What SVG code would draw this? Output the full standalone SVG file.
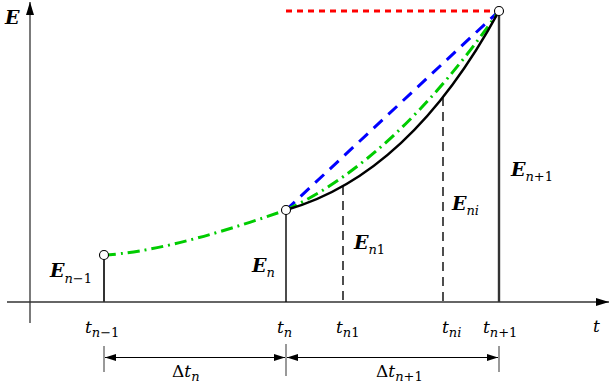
<svg xmlns="http://www.w3.org/2000/svg" width="610" height="389" viewBox="0 0 610 389">
<style>
.ax{stroke:#333;stroke-width:1.3;fill:none}
text{font-family:'DejaVu Serif',serif}
.E{font-style:italic;font-weight:bold;font-size:19px;fill:#000}
.t{font-style:italic;font-size:17px;fill:#000}
.s{font-size:13px;font-weight:normal}
.u{font-style:normal}
.pt{fill:#fff;stroke:#000;stroke-width:1.1}
.dim{stroke:#000;stroke-width:1;fill:none}
.tick{stroke:#555;stroke-width:1.2}
</style>
<defs>
<marker id="ah" markerWidth="14" markerHeight="10" refX="13" refY="5" orient="auto" markerUnits="userSpaceOnUse">
<path d="M0,1 L13,5 L0,9 Z" fill="#000"/>
</marker>
<marker id="dh" markerWidth="12" markerHeight="8" refX="11" refY="4" orient="auto-start-reverse" markerUnits="userSpaceOnUse">
<path d="M0,0.5 L11,4 L0,7.5 Z" fill="#000"/>
</marker>
</defs>
<g id="axes">
<line class="ax" x1="7" y1="302" x2="609" y2="302" marker-end="url(#ah)"/>
<line class="ax" x1="30" y1="323" x2="30" y2="2" marker-end="url(#ah)"/>
<text class="E" x="5" y="24">E</text>
<text class="t" x="593" y="332">t</text>
</g>
<g id="connectors">
<line x1="104" y1="255" x2="104" y2="302" stroke="#333" stroke-width="2"/>
<line x1="286" y1="210" x2="286" y2="302" stroke="#111" stroke-width="1.5"/>
<line x1="343" y1="186" x2="343" y2="302" stroke="#222" stroke-width="1.6" stroke-dasharray="9,6"/>
<line x1="443" y1="97" x2="443" y2="302" stroke="#222" stroke-width="1.6" stroke-dasharray="9,6"/>
<line x1="499" y1="11" x2="499" y2="302" stroke="#333" stroke-width="2.4"/>
<line x1="286" y1="11" x2="495" y2="11" stroke="#ff0000" stroke-width="3" stroke-dasharray="6,5"/>
<line x1="286" y1="210" x2="499" y2="11" stroke="#0000ff" stroke-width="3" stroke-dasharray="12,8"/>
<path d="M104,255 Q167,252 286,210" fill="none" stroke="#00cc00" stroke-width="3" stroke-dasharray="12,5,2,5"/>
<path d="M286,210 Q395,160 499,11" fill="none" stroke="#00cc00" stroke-width="3" stroke-dasharray="12,5,2,5"/>
<path d="M286,210 Q410,175 499,11" fill="none" stroke="#000" stroke-width="2.6"/>
</g>
<g id="points">
<circle class="pt" cx="104" cy="255" r="4.5"/>
<circle class="pt" cx="286" cy="210" r="4.5"/>
<circle class="pt" cx="499" cy="11" r="4.5"/>
</g>
<g id="labels-E">
<text class="E" x="50" y="277">E<tspan class="s" dy="6">n</tspan><tspan class="s u" dy="0">−1</tspan></text>
<text class="E" x="252" y="272">E<tspan class="s" dy="5">n</tspan></text>
<text class="E" x="354" y="249">E<tspan class="s" dy="5">n</tspan><tspan class="s u">1</tspan></text>
<text class="E" x="452" y="210">E<tspan class="s" dy="5">ni</tspan></text>
<text class="E" x="511" y="176">E<tspan class="s" dy="5">n</tspan><tspan class="s u">+1</tspan></text>
</g>
<g id="labels-t">
<text class="t" x="85" y="333">t<tspan class="s" dy="4">n</tspan><tspan class="s u">−1</tspan></text>
<text class="t" x="277" y="333">t<tspan class="s" dy="4">n</tspan></text>
<text class="t" x="336" y="333">t<tspan class="s" dy="4">n</tspan><tspan class="s u">1</tspan></text>
<text class="t" x="442" y="333">t<tspan class="s" dy="4">ni</tspan></text>
<text class="t" x="483" y="333">t<tspan class="s" dy="4">n</tspan><tspan class="s u">+1</tspan></text>
</g>
<g id="dimensions">
<line class="tick" x1="104" y1="346" x2="104" y2="372"/>
<line class="tick" x1="286" y1="344" x2="286" y2="376"/>
<line class="tick" x1="499" y1="346" x2="499" y2="372"/>
<line class="dim" x1="105" y1="357.5" x2="285" y2="357.5" marker-start="url(#dh)" marker-end="url(#dh)"/>
<line class="dim" x1="287" y1="357.5" x2="498" y2="357.5" marker-start="url(#dh)" marker-end="url(#dh)"/>
<text class="t" x="172" y="377"><tspan class="u">Δ</tspan>t<tspan class="s" dy="4">n</tspan></text>
<text class="t" x="376" y="377"><tspan class="u">Δ</tspan>t<tspan class="s" dy="4">n</tspan><tspan class="s u">+1</tspan></text>
</g>
</svg>
